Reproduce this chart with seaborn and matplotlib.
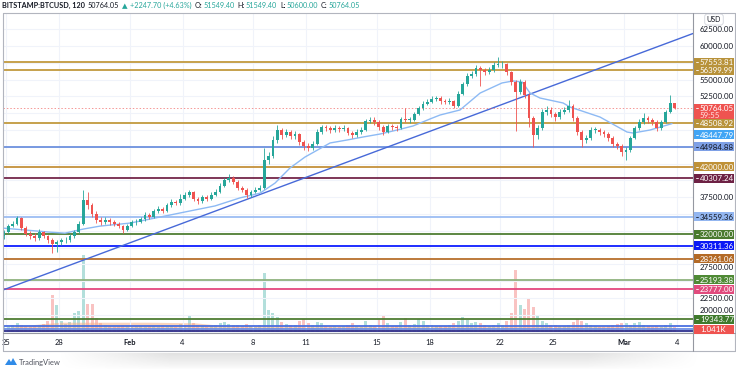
import numpy as np
import pandas as pd
import matplotlib
matplotlib.use("Agg")
import matplotlib.pyplot as plt
import seaborn as sns
from matplotlib.lines import Line2D
from matplotlib.patches import Polygon, Rectangle

# ---------------- data ----------------
# 6-hour candles, first candle centred on Jan 24 21:00 (day -0.125 from Jan 25 00:00)
candle_start_day = -0.125
candle_step_day = 0.25
first_open = 31700
closes = [32300, 33200, 33500, 34400, 32900, 32000, 31700, 31400, 32300, 31700,
          31100, 30500, 30800, 31100, 31100, 31700, 32300, 33500, 37100, 36300,
          35000, 34100, 33800, 34100, 33800, 33500, 33200, 32600, 33200, 33800,
          33800, 34200, 34900, 34600, 35400, 35800, 35500, 36300, 36800, 36600,
          37300, 37900, 38200, 37300, 36900, 37600, 37300, 37900, 38300, 39200,
          40100, 40400, 39800, 38900, 38600, 37800, 38300, 38600, 38900, 43000,
          43600, 46000, 47500, 46800, 47200, 46600, 46900, 45700, 45100, 44800,
          45400, 47200, 47900, 47800, 47500, 47800, 47600, 47800, 47100, 46800,
          47200, 47500, 48800, 49000, 48700, 47900, 47200, 48100, 47900, 47800,
          49100, 49000, 49000, 49900, 50800, 51400, 51700, 52100, 52300, 51800,
          51700, 51800, 51100, 52900, 54300, 55500, 55800, 56700, 56400, 56100,
          56400, 57200, 57300, 57300, 56100, 54600, 53200, 54600, 52700, 49300,
          46800, 47800, 50200, 50500, 49900, 49400, 50200, 50500, 51100, 49300,
          47200, 46000, 46300, 47500, 47500, 47200, 46900, 46300, 45400, 45100,
          44200, 44500, 46300, 47800, 48700, 49300, 49000, 48700, 47800, 48700,
          50200, 51549.40, 50764.05]
highs = [32600, 33500, 33900, 34700, 34500, 33200, 32400, 32100, 32700, 32500,
         31900, 31400, 31200, 31500, 31600, 32000, 32600, 33900, 38500, 38200,
         36600, 35400, 34500, 34500, 34400, 34100, 33800, 33400, 33500, 34100,
         34200, 34600, 35300, 35200, 35700, 36200, 36100, 36600, 37200, 37100,
         38000, 38300, 38600, 38400, 37600, 37900, 37900, 38200, 38700, 39600,
         40400, 40900, 40600, 40000, 39200, 38900, 38600, 39000, 39300, 44800,
         44300, 46600, 48200, 47800, 47700, 47500, 47400, 47100, 46000, 45500,
         45800, 47600, 48300, 48200, 48100, 48200, 48100, 48200, 48000, 47400,
         47600, 47900, 49200, 49500, 49400, 49000, 48200, 48400, 48400, 48200,
         49500, 50800, 49400, 50200, 51100, 51800, 52100, 52500, 52600, 52500,
         52100, 52200, 52000, 53300, 54700, 56000, 56300, 57200, 57000, 56800,
         56900, 57600, 58300, 57800, 57500, 56300, 55000, 55100, 54900, 53000,
         49600, 48300, 50600, 51000, 50900, 50200, 50600, 50900, 52000, 51300,
         49600, 47500, 46800, 47900, 48000, 47800, 47500, 47200, 46600, 45700,
         45400, 44900, 46600, 48100, 49100, 50000, 49600, 49300, 49000, 49000,
         50500, 52700, 51549.40]
lows = [31300, 32100, 33000, 33300, 32600, 31700, 31300, 31000, 31200, 31400,
        30700, 29200, 29400, 30400, 30700, 30900, 31500, 32100, 33300, 35800,
        34600, 33700, 33400, 33500, 33400, 33200, 32900, 32200, 32400, 33000,
        33400, 33600, 34000, 34300, 34400, 35200, 35200, 35300, 36100, 36300,
        36400, 37100, 37600, 37000, 36500, 36700, 37000, 37100, 37700, 38100,
        39000, 39800, 39400, 38500, 38200, 37400, 37600, 38100, 38400, 38700,
        42500, 43300, 45600, 46200, 46400, 46100, 46200, 45300, 44500, 44400,
        44500, 45200, 46900, 47400, 47100, 47200, 47200, 47300, 46800, 46300,
        46500, 46900, 47300, 48500, 48300, 47500, 46800, 47000, 47500, 47400,
        47600, 48700, 48600, 48800, 49700, 50500, 51200, 51500, 51800, 51400,
        51300, 51300, 50800, 50900, 52700, 54000, 55200, 55500, 54000, 55700,
        55800, 56100, 56900, 56800, 55700, 54200, 47400, 52900, 52200, 47900,
        45000, 46100, 47500, 49800, 49400, 48900, 49100, 49900, 50200, 48900,
        46800, 45000, 45600, 46000, 47100, 46800, 46500, 45900, 45000, 44600,
        43700, 43000, 44300, 46100, 47500, 48400, 48600, 48300, 47400, 47500,
        48500, 50000, 50600.00]
volumes_k = [1.2, 1.0, 1.3, 1.6, 1.4, 1.1, 1.0, 1.2, 1.3, 1.5,
             2.0, 6.3, 4.6, 2.0, 1.5, 1.8, 3.4, 3.6, 13.0, 4.8,
             4.9, 2.5, 1.6, 1.3, 1.2, 1.0, 1.1, 1.4, 1.2, 1.0,
             1.2, 1.1, 1.0, 1.2, 1.1, 1.0, 1.3, 1.2, 1.1, 1.0,
             1.5, 1.4, 3.0, 1.6, 1.3, 1.1, 1.0, 1.2, 1.4, 1.6,
             1.8, 1.5, 1.3, 1.4, 1.2, 1.5, 1.1, 1.0, 1.3, 10.0,
             3.8, 3.4, 2.6, 1.8, 1.5, 1.3, 1.4, 2.0, 2.4, 1.6,
             1.3, 1.8, 1.6, 1.2, 1.0, 1.1, 1.0, 1.2, 1.3, 1.6,
             1.2, 1.0, 2.0, 1.4, 1.2, 2.2, 3.0, 1.6, 1.2, 1.1,
             1.8, 2.5, 1.4, 1.5, 2.4, 2.0, 1.4, 1.3, 1.2, 1.1,
             1.2, 1.4, 1.6, 2.0, 2.6, 2.2, 1.6, 1.8, 1.7, 1.3,
             1.1, 1.3, 1.6, 1.4, 2.0, 3.4, 10.5, 4.6, 4.0, 5.8,
             4.4, 2.8, 2.0, 1.6, 1.4, 1.3, 1.2, 1.1, 1.4, 1.8,
             2.3, 2.0, 1.6, 1.3, 1.1, 1.0, 1.0, 1.2, 1.4, 1.5,
             1.7, 1.6, 1.4, 1.6, 1.9, 1.3, 1.2, 1.0, 1.1, 1.0,
             1.3, 1.6, 1.0]

# moving average (light blue) read at sample days
ma_days = [-0.17, 2.49, 3.34, 4.36, 5.33, 7.03, 8.73, 10.42, 11.84, 13.26,
           14.39, 15.24, 16.09, 16.94, 18.36, 19.32, 20.23, 21.19, 22.16, 23.06,
           24.02, 24.59, 25.72, 26.86, 28.10, 28.73, 29.24, 29.69, 30.25, 31.56,
           31.95, 33.65, 35.18, 35.52, 36.49, 37.73]
ma_values = [32900, 32300, 32150, 32750, 33200, 33650, 34550, 35450, 36200, 37400,
             38100, 39600, 41850, 43480, 45570, 46010, 46460, 46900, 47500, 48100,
             49140, 49730, 50480, 53000, 54500, 54800, 54640, 53000, 52260, 51520,
             50920, 49430, 47200, 47050, 47500, 48450]

# volume moving average (orange area), in K
volma_days = [-0.17, 0.79, 1.93, 3.06, 5.33, 8.16, 10.71, 12.41, 16.66, 22.32,
              28.56, 30.25, 33.65, 37.73]
volma_values = [0.8, 1.2, 1.5, 1.8, 1.8, 1.8, 1.7, 1.2, 1.2, 1.2,
                1.2, 1.3, 1.2, 1.0]

trend_days = [-0.17, 38.92]
trend_values = [23690, 61860]

level_values = [57553.81, 56399.99, 48508.92, 44984.88, 42000.00, 40307.24,
                34559.36, 32000.00, 30311.36, 28361.06, 25193.38, 23777.00,
                19343.77, 18260.00, 17960.00, 17620.00]
level_names = ["57553.81", "56399.99", "48508.92", "44984.88", "42000.00", "40307.24",
               "34559.36", "32000.00", "30311.36", "28361.06", "25193.38", "23777.00",
               "19343.77", "", "", ""]
level_colors = ["#c29a3e", "#c29a3e", "#c29a3e", "#6d91de", "#c4913a", "#74264a",
                "#9cbdf3", "#4e7d33", "#0d1dff", "#b86f2c", "#8fb27e", "#e4487e",
                "#4e7d33", "#4a6fe0", "#6d8fe5", "#2c2f8f"]
label_bg = ["#b8923a", "#b8923a", "#b8923a", "#7ea0e6", "#bf9137", "#6d2144",
            "#93b6f0", "#4a7a2f", "#0a18f5", "#b36a26", "#4f8a35", "#e14b7d",
            "#3f7a2c", None, None, None]
label_fg = ["white", "white", "white", "#131722", "white", "white",
            "#131722", "white", "white", "white", "white", "white",
            "white", None, None, None]

price_tick_values = [62500, 60000, 55000, 52500, 37500, 27500, 22500, 20000]
last_price = 50764.05
ma_last = 48447.79
countdown = "59:55"
volume_last = "1.041K"

date_tick_days = [0, 3, 7, 10, 14, 17, 21, 24, 28, 31, 35, 38]
date_tick_labels = ["25", "28", "Feb", "4", "8", "11", "15", "18", "22", "25", "Mar", "4"]

header = [("BITSTAMP:BTCUSD, 120", "#131722", "bold"), ("50764.05", "#131722", "normal"),
          ("\u25b2", "#26a69a", "normal"), ("+2247.70 (+4.63%)", "#26a69a", "normal"),
          ("O:", "#131722", "normal"), ("51549.40", "#26a69a", "normal"),
          ("H:", "#131722", "normal"), ("51549.40", "#26a69a", "normal"),
          ("L:", "#131722", "normal"), ("50600.00", "#26a69a", "normal"),
          ("C:", "#131722", "normal"), ("50764.05", "#26a69a", "normal")]

# ---------------- build table ----------------
n = len(closes)
days = candle_start_day + candle_step_day * np.arange(n)
opens = [first_open] + closes[:-1]
df = pd.DataFrame({"day": days, "open": opens, "close": closes,
                   "high": highs, "low": lows, "volume": volumes_k})
df["up"] = df["close"] >= df["open"]

UP = "#26a69a"
DOWN = "#ef5350"
TXT = "#131722"

sns.set_theme(style="white")
plt.rcParams["font.family"] = ["Lato", "DejaVu Sans"]

W, H = 736, 370
fig = plt.figure(figsize=(W / 100, H / 100), dpi=100)
fig.patch.set_facecolor("white")

# pixel geometry of the plot area (pixels from the top-left corner)
px_left, px_right, px_top, px_bottom = 3, 693, 12.5, 333
ax_pos = [px_left / W, 1 - px_bottom / H, (px_right - px_left) / W, (px_bottom - px_top) / H]
ax2 = fig.add_axes(ax_pos)      # volume pane (behind)
ax = fig.add_axes(ax_pos)       # price pane
ax.set_zorder(3)
ax2.set_zorder(2)
ax.patch.set_visible(False)

ylo, yhi = 17292, 64985
xlo, xhi = -0.17, 38.92
ax.set_ylim(ylo, yhi)
ax.set_xlim(xlo, xhi)
ax2.set_xlim(xlo, xhi)
ax2.set_ylim(0, 53.5)

# grid
for v in np.arange(17500, 65000, 2500):
    ax.axhline(v, color="#f0f3fa", lw=0.8, zorder=0)
for d in date_tick_days:
    ax.axvline(d, color="#f0f3fa", lw=0.8, zorder=0)

# volume
vcolors = np.where(df["up"], UP, DOWN)
ax2.bar(df["day"], df["volume"], width=0.17, color=vcolors, alpha=0.35, linewidth=0)
ax2.fill_between(volma_days, volma_values, color="#f8b084", alpha=0.55, linewidth=0)

# level lines
for v, c in zip(level_values, level_colors):
    ax.axhline(v, color=c, lw=1.3, zorder=2)

# trend line
ax.plot(trend_days, trend_values, color="#4769d8", lw=1.0, zorder=2)

# moving average
sns.lineplot(x=ma_days, y=ma_values, ax=ax, color="#8dbaf4", lw=1.0, zorder=3)

# current price dotted line
ax.axhline(last_price, color=DOWN, lw=0.7, ls=(0, (1.5, 2)), alpha=0.6, zorder=2)

# candles
ccol = np.where(df["up"], UP, DOWN)
ax.vlines(df["day"], df["low"], df["high"], colors=ccol, lw=0.6, zorder=4)
body_lo = np.minimum(df["open"], df["close"])
body_h = np.maximum(np.abs(df["close"] - df["open"]), 80)
ax.bar(df["day"], body_h, bottom=body_lo, width=0.16, color=ccol, linewidth=0, zorder=5)

# axes cosmetics
for a in (ax, ax2):
    for s in a.spines.values():
        s.set_visible(False)
    a.set_yticks([])
    a.set_ylabel("")
ax2.set_xticks([])
ax.set_xticks(date_tick_days)
ax.set_xticklabels(date_tick_labels, fontsize=5.4, color=TXT)
ax.tick_params(axis="x", length=0, pad=4.2)
for t in ax.get_xticklabels():
    if t.get_text() in ("Feb", "Mar"):
        t.set_fontweight("bold")


def val_to_py(v):
    return ax.transData.transform((0, v))[1]


LBL_X0, LBL_X1, LBL_H, TXT_X = 694, 734, 9, 700
FS = 5.7


def axis_label(py, text, bg, fg, dash_color=None, z=20):
    fig.add_artist(Rectangle((LBL_X0 / W, (py - LBL_H / 2) / H), (LBL_X1 - LBL_X0) / W, LBL_H / H,
                             transform=fig.transFigure, fc=bg, ec="none", zorder=z))
    if dash_color is not None:
        fig.add_artist(Line2D([695.5 / W, 698 / W], [py / H, py / H], color=dash_color,
                              lw=0.6, zorder=z + 1))
    fig.text(TXT_X / W, py / H, text, fontsize=FS, color=fg, ha="left", va="center_baseline",
             zorder=z + 2)


# plain price tick labels (nudge the two that sit under level labels)
tick_nudge = {27500: -3, 20000: 5}
for v in price_tick_values:
    fig.text(TXT_X / W, (val_to_py(v) + tick_nudge.get(v, 0)) / H, f"{v:.2f}", fontsize=FS,
             color=TXT, ha="left", va="center_baseline", zorder=15)

# level labels
for v, name, bg, fg in zip(level_values, level_names, label_bg, label_fg):
    if name:
        axis_label(val_to_py(v), name, bg, fg, dash_color=fg)

# moving-average label, pushed below the 48508.92 label
axis_label(val_to_py(ma_last) - 11, f"{ma_last:.2f}", "#42a5f5", "white", dash_color="white")
# last price label with countdown (two rows)
py_last = val_to_py(last_price)
fig.add_artist(Rectangle((LBL_X0 / W, (py_last - 11.3) / H), (LBL_X1 - LBL_X0) / W, 15.8 / H,
                         transform=fig.transFigure, fc=DOWN, ec="none", zorder=30))
fig.add_artist(Line2D([695.5 / W, 698 / W], [py_last / H, py_last / H], color="white",
                      lw=0.6, zorder=31))
fig.text(TXT_X / W, py_last / H, f"{last_price:.2f}", fontsize=FS, color="white",
         ha="left", va="center_baseline", zorder=32)
fig.text(TXT_X / W, (py_last - 7.3) / H, countdown, fontsize=FS, color="#ffe0df",
         ha="left", va="center_baseline", zorder=32)
# volume label
axis_label(val_to_py(ylo) + 3.5, volume_last, DOWN, "white")

# USD box
fig.text(714 / W, 1 - 19.5 / H, "USD", fontsize=5.0, color=TXT, ha="center", va="center",
         bbox=dict(boxstyle="round,pad=0.3,rounding_size=0.4", fc="white", ec="#d1d4dc", lw=0.6))

# frame lines
frame_col = "#b2b5be"


def fline(x0, y0, x1, y1, col=frame_col, lw=0.8):
    fig.add_artist(Line2D([x0 / W, x1 / W], [1 - y0 / H, 1 - y1 / H], color=col, lw=lw, zorder=10))


fline(3, 12.5, 735, 12.5)
fline(3, 12.5, 3, 351)
fline(735, 12.5, 735, 351)
fline(3, 351, 735, 351)
fline(3, 333, 735, 333, col="#9598a1")
fline(693, 12.5, 693, 351, col="#9598a1")

# header
fig.canvas.draw()
renderer = fig.canvas.get_renderer()
xpos = 2 / W
for text, col, weight in header:
    t = fig.text(xpos, 1 - 5.5 / H, text, fontsize=5.25, color=col, fontweight=weight,
                 ha="left", va="center")
    bb = t.get_window_extent(renderer=renderer)
    gap = 1.0 if text.endswith(":") else 2.8
    xpos += (bb.width + gap) / W

# footer logo + text
logo = Polygon([[5 / W, 1 - 365 / H], [9 / W, 1 - 359 / H], [11 / W, 1 - 362 / H],
                [13 / W, 1 - 358 / H], [17 / W, 1 - 365 / H]], closed=True,
               fc="#2f8be8", ec="none", transform=fig.transFigure)
fig.add_artist(logo)
fig.text(19 / W, 1 - 362 / H, "TradingView", fontsize=5.4, color="#50535e", ha="left", va="center")

# bottom shadow
sh = fig.add_axes([0, 0, 1, 17 / H], zorder=-1)
yy = np.linspace(0, 1, 17)[:, None]
xx = np.linspace(0, 1, W)[None, :]
horiz = np.clip(np.minimum(xx - 0.08, 0.95 - xx) / 0.15, 0, 1)
alpha = 0.25 * (1 - yy) ** 0.8 * horiz
rgba = np.zeros((17, W, 4))
rgba[..., :3] = 0.55
rgba[..., 3] = alpha
sh.imshow(rgba, aspect="auto", extent=[0, 1, 0, 1])
sh.axis("off")

fig.savefig("out.png", dpi=100)
